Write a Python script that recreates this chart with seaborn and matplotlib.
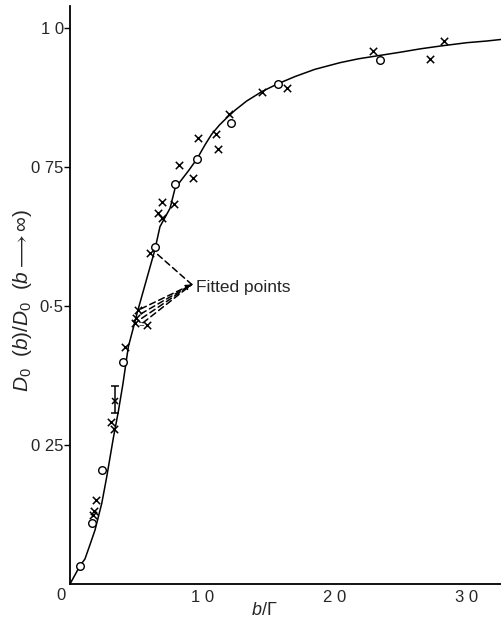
import matplotlib
matplotlib.use("Agg")
import matplotlib.pyplot as plt
import seaborn as sns
import pandas as pd

# ---- data ----
circle_x = [0.76, 1.69, 2.44, 4.03, 6.42, 7.94, 9.57, 12.2, 15.7, 23.4]
circle_y = [0.033, 0.110, 0.205, 0.400, 0.606, 0.719, 0.764, 0.830, 0.900, 0.942]

cross_x = [1.74, 1.81, 1.97, 3.10, 3.35, 4.16, 4.91, 4.99, 5.12, 5.80, 6.05,
           6.68, 6.93, 6.93, 7.86, 8.26, 9.30, 9.70, 11.0, 11.16, 12.0, 14.5,
           16.4, 22.9, 27.2, 28.3]
cross_y = [0.124, 0.132, 0.152, 0.292, 0.278, 0.427, 0.469, 0.478, 0.493, 0.466, 0.595,
           0.667, 0.658, 0.688, 0.683, 0.754, 0.731, 0.803, 0.809, 0.782, 0.846, 0.886,
           0.893, 0.959, 0.944, 0.977]

err_x = [3.40]
err_y = [0.329]
err_lo = [0.307]
err_hi = [0.357]

curve_x = [0.0, 0.76, 1.13, 1.5, 1.89, 2.4, 2.77, 3.27, 3.65, 4.0, 4.41, 4.91, 5.1,
           6.4, 6.8, 7.56, 7.94, 9.0, 9.6, 10.2, 10.7, 11.3, 11.9, 12.5, 13.35, 14.5, 15.7,
           17.0, 18.5, 20.4, 21.8, 23.4, 25.0, 26.5, 28.0, 30.0, 31.5, 32.65]
curve_y = [0.0, 0.033, 0.045, 0.07, 0.097, 0.145, 0.192, 0.262, 0.31, 0.36, 0.427, 0.472, 0.49,
           0.600, 0.643, 0.676, 0.712, 0.745, 0.765, 0.790, 0.809, 0.826, 0.840, 0.853, 0.869,
           0.886, 0.900, 0.913, 0.926, 0.938, 0.945, 0.951, 0.957, 0.963, 0.968, 0.974, 0.977,
           0.980]

fitted_tip = (9.2, 0.539)
fitted_targets_x = [6.62, 5.35, 5.35, 5.42, 5.52]
fitted_targets_y = [0.593, 0.495, 0.486, 0.478, 0.470]

x_ticks = [10, 20, 30]
x_tick_labels = ["1 0", "2 0", "3 0"]
y_ticks = [0.25, 0.5, 0.75, 1.0]
y_tick_labels = ["0 25", "0·5", "0 75", "1 0"]

# ---- plotting ----
sns.set_theme(style="white")
plt.rcParams['font.family'] = ['Liberation Sans', 'DejaVu Sans']
plt.rcParams['mathtext.fontset'] = 'custom'
plt.rcParams['mathtext.it'] = 'Liberation Sans:italic'
plt.rcParams['mathtext.rm'] = 'Liberation Sans'

fig = plt.figure(figsize=(5.02, 6.22), dpi=100)
ax = fig.add_axes([70/502, 38/622, 432/502, 578/622])

curve = pd.DataFrame({"x": curve_x, "y": curve_y})
sns.lineplot(data=curve, x="x", y="y", sort=False, estimator=None,
             color="black", linewidth=1.1, ax=ax)

circ = pd.DataFrame({"x": circle_x, "y": circle_y})
sns.scatterplot(data=circ, x="x", y="y", marker="o", s=30,
                facecolor="white", edgecolor="black", linewidth=1.0, ax=ax, zorder=3)

crs = pd.DataFrame({"x": cross_x, "y": cross_y})
sns.scatterplot(data=crs, x="x", y="y", marker="x", s=28,
                color="black", linewidth=1.1, ax=ax, zorder=3)

ax.errorbar(err_x, err_y,
            yerr=[[err_y[0] - err_lo[0]], [err_hi[0] - err_y[0]]],
            fmt="x", color="black", ms=5, mew=1.1, elinewidth=1.1, capsize=3, capthick=1.1,
            zorder=3)

# small "=" mark between fitted crosses
ax.text(5.38, 0.466, "=", fontsize=7, ha="center", va="center")

# Fitted points annotation
for i, (tx, ty) in enumerate(zip(fitted_targets_x, fitted_targets_y)):
    ax.annotate("", xy=fitted_tip, xytext=(tx, ty),
                arrowprops=dict(arrowstyle="-|>" if i == 2 else "-", color="black",
                                lw=1.1, linestyle=(0, (4, 2.5)),
                                shrinkA=0, shrinkB=0, mutation_scale=8))
ax.text(fitted_tip[0] + 0.35, fitted_tip[1] - 0.006, "Fitted points",
        fontsize=12.5, ha="left", va="center")

ax.set_xlim(0, 32.65)
ax.set_ylim(0, 1.04)
ax.set_xticks(x_ticks)
ax.set_xticklabels(x_tick_labels, fontsize=12)
ax.set_yticks(y_ticks)
ax.set_yticklabels(y_tick_labels, fontsize=12)
ax.tick_params(axis="x", direction="in", length=4, width=1, pad=4, color="black")
ax.tick_params(axis="y", direction="out", length=4, width=1, pad=0.5, color="black",
               left=True)
ax.text(-0.35, -0.008, "0", fontsize=12, ha="right", va="top")

for side in ["top", "right"]:
    ax.spines[side].set_visible(False)
for side in ["left", "bottom"]:
    ax.spines[side].set_color("black")
    ax.spines[side].set_linewidth(1.3)

ax.set_xlabel(r"$b/\Gamma$", fontsize=13, labelpad=4)
ax.xaxis.set_label_coords(0.45, -0.032)
ax.set_ylabel(r"$D_0\ \ (b)/D_0\ \ (b \longrightarrow \infty)$", fontsize=15, labelpad=6)
ax.yaxis.set_label_coords(-0.084, 0.49)

fig.savefig("out.png", dpi=100, facecolor="white")
